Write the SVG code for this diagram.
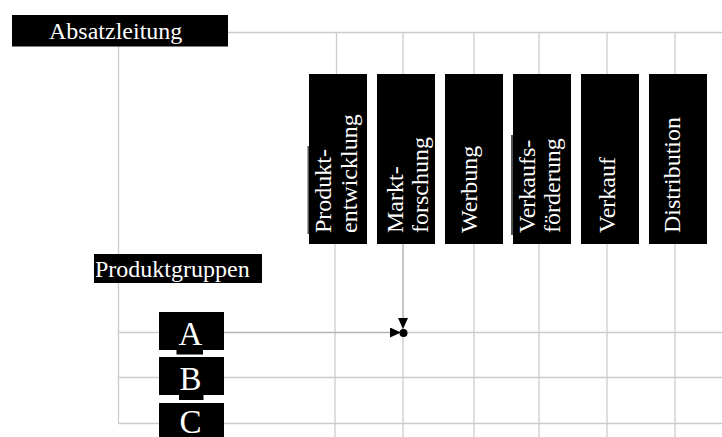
<svg xmlns="http://www.w3.org/2000/svg" width="722" height="437" viewBox="0 0 722 437">
<style>
.grid{stroke:#cccccc;stroke-width:1.3;fill:none}
.conn{stroke:#b5b5b5;stroke-width:1.5;fill:none}
.box{fill:#000}
.t{font-family:"Liberation Serif","Times New Roman",serif;fill:#fff;font-size:24px}
.big{font-size:33px;text-anchor:middle}
.edge{fill:#555}
</style>
<defs>
<marker id="arr" viewBox="0 0 11 10" refX="11" refY="5" markerUnits="userSpaceOnUse" markerWidth="11" markerHeight="10" orient="auto">
<path d="M0,0 L11,5 L0,10 z" fill="#000"/>
</marker>
</defs>
<g id="grid">
<line class="grid" x1="228" y1="32.5" x2="722" y2="32.5"/>
<line class="grid" x1="118.5" y1="46" x2="118.5" y2="423"/>
<line class="grid" x1="118" y1="332.5" x2="159" y2="332.5"/>
<line class="grid" x1="118" y1="377.5" x2="722" y2="377.5"/>
<line class="grid" x1="118" y1="423.5" x2="722" y2="423.5"/>
<line class="grid" x1="403" y1="332.5" x2="722" y2="332.5"/>
<line class="grid" x1="336.5" y1="32" x2="336.5" y2="74"/>
<line class="grid" x1="403" y1="32" x2="403" y2="74"/>
<line class="grid" x1="474" y1="32" x2="474" y2="74"/>
<line class="grid" x1="539" y1="32" x2="539" y2="74"/>
<line class="grid" x1="607" y1="32" x2="607" y2="74"/>
<line class="grid" x1="675" y1="32" x2="675" y2="74"/>
<line class="grid" x1="335" y1="244" x2="335" y2="437"/>
<line class="grid" x1="403" y1="333" x2="403" y2="437"/>
<line class="grid" x1="474" y1="244" x2="474" y2="437"/>
<line class="grid" x1="539" y1="244" x2="539" y2="437"/>
<line class="grid" x1="607" y1="244" x2="607" y2="437"/>
<line class="grid" x1="675" y1="244" x2="675" y2="437"/>
</g>
<g id="connectors">
<line class="conn" x1="224" y1="332.5" x2="401" y2="332.5" marker-end="url(#arr)"/>
<line class="conn" x1="403" y1="244" x2="403" y2="329" marker-end="url(#arr)"/>
<circle cx="403.5" cy="333" r="4" fill="#000"/>
</g>
<g id="absatzleitung">
<rect class="box" x="12" y="15" width="216" height="31.5"/>
<text class="t" x="49" y="38.5">Absatzleitung</text>
</g>
<g id="produktentwicklung">
<rect class="edge" x="307.5" y="146" width="2" height="88"/>
<rect class="box" x="309" y="74" width="58" height="170"/>
<text class="t" transform="translate(331,233) rotate(-90)">Produkt-</text>
<text class="t" transform="translate(357,233) rotate(-90)">entwicklung</text>
</g>
<g id="marktforschung">
<rect class="box" x="377" y="74" width="58" height="170"/>
<text class="t" transform="translate(403,233) rotate(-90)">Markt-</text>
<text class="t" transform="translate(428,233) rotate(-90)">forschung</text>
</g>
<g id="werbung">
<rect class="box" x="445" y="74" width="58" height="170"/>
<text class="t" transform="translate(477,233) rotate(-90)">Werbung</text>
</g>
<g id="verkaufsfoerderung">
<rect class="edge" x="511" y="135" width="2" height="100"/>
<rect class="box" x="513" y="74" width="58" height="170"/>
<text class="t" transform="translate(535,233) rotate(-90)">Verkaufs-</text>
<text class="t" transform="translate(560,233) rotate(-90)">förderung</text>
</g>
<g id="verkauf">
<rect class="box" x="581" y="74" width="58" height="170"/>
<text class="t" transform="translate(615,233) rotate(-90)">Verkauf</text>
</g>
<g id="distribution">
<rect class="box" x="649" y="74" width="58" height="170"/>
<text class="t" transform="translate(680,233) rotate(-90)">Distribution</text>
</g>
<g id="produktgruppen">
<rect class="box" x="94" y="254" width="168" height="29"/>
<text class="t" x="95" y="277">Produktgruppen</text>
</g>
<g id="gruppe-a">
<rect class="box" x="159" y="312" width="65" height="38"/>
<rect class="box" x="176.5" y="349" width="26.5" height="5.5"/>
<text class="t big" x="190.5" y="345">A</text>
</g>
<g id="gruppe-b">
<rect class="box" x="159" y="357" width="65" height="38"/>
<rect class="box" x="179" y="394" width="24.5" height="6"/>
<text class="t big" x="190.5" y="390">B</text>
</g>
<g id="gruppe-c">
<rect class="box" x="159" y="403" width="65" height="34"/>
<text class="t big" x="190.5" y="433">C</text>
</g>
</svg>
